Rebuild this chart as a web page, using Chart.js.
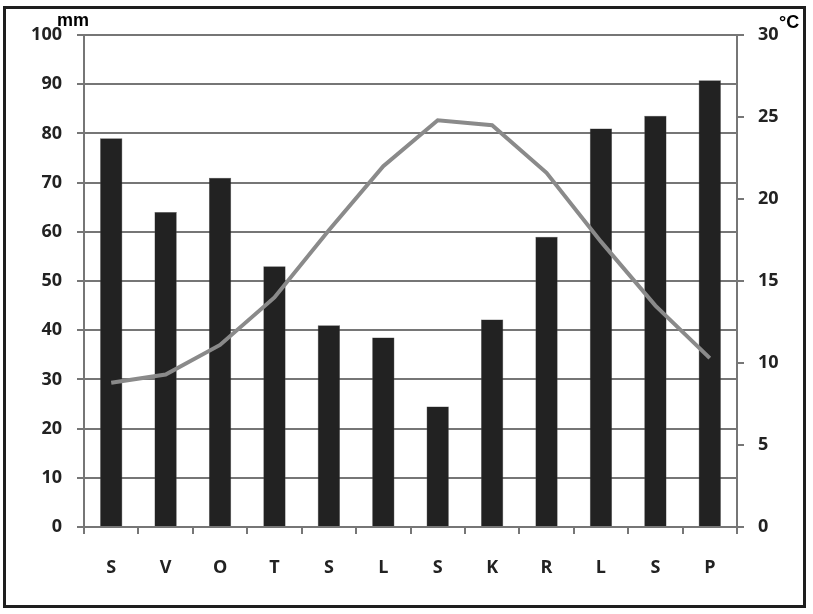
<!DOCTYPE html>
<html>
<head>
<meta charset="utf-8">
<script src="https://cdn.jsdelivr.net/npm/chart.js@4.4.1/dist/chart.umd.min.js"></script>
<style>
  html, body { margin: 0; padding: 0; background: #fff; }
  #frame {
    position: absolute; left: 3px; top: 6px;
    width: 803px; height: 602px;
    box-sizing: border-box;
    border: 3px solid #1e1e1e;
    background: #fff;
  }
  #wrap { position: absolute; left: 0; top: 0; width: 797px; height: 596px; }
  .unit {
    position: absolute; font-family: "Liberation Sans", Arial, sans-serif;
    font-weight: bold; color: #000; line-height: 1;
  }
</style>
</head>
<body>
<div id="frame">
  <div id="wrap"><canvas id="climateChart"></canvas></div>
  <div class="unit" style="left:51px; top:2px; font-size:18px;">mm</div>
  <div class="unit" style="left:773px; top:4px; font-size:18px;">°C</div>
</div>
<script>
const months = ['S', 'V', 'O', 'T', 'S', 'L', 'S', 'K', 'R', 'L', 'S', 'P'];
const precipitation = [79, 64, 71, 53, 41, 38.5, 24.5, 42.2, 59, 81, 83.6, 90.8];
const temperature = [8.8, 9.3, 11.1, 14.0, 18.1, 22.0, 24.8, 24.5, 21.6, 17.4, 13.5, 10.3];

const tickFont = { family: "'Open Sans', sans-serif", size: 18, weight: 'bold' };
const gridGray = '#767676';

const ctx = document.getElementById('climateChart').getContext('2d');
const climateChart = new Chart(ctx, {
  data: {
    labels: months,
    datasets: [
      {
        type: 'line',
        label: 'Temperatura',
        data: temperature,
        yAxisID: 'yTemp',
        borderColor: '#8a8a8a',
        borderWidth: 4,
        pointRadius: 0,
        tension: 0,
        order: 0
      },
      {
        type: 'bar',
        label: 'Padaline',
        data: precipitation,
        yAxisID: 'yRain',
        backgroundColor: '#222222',
        borderColor: '#555555',
        borderWidth: 0.5,
        barPercentage: 0.41,
        categoryPercentage: 1,
        order: 1
      }
    ]
  },
  options: {
    responsive: true,
    maintainAspectRatio: false,
    animation: false,
    layout: { padding: { top: 26, left: 0, right: 0, bottom: 0 } },
    plugins: {
      legend: { display: false },
      tooltip: { enabled: false }
    },
    scales: {
      x: {
        offset: true,
        grid: {
          offset: true,
          drawOnChartArea: false,
          color: gridGray,
          lineWidth: 2,
          tickLength: 7
        },
        border: { display: true, color: gridGray, width: 2 },
        ticks: { color: '#222', font: tickFont, padding: 23, maxRotation: 0 },
        afterFit(scale) { scale.height = 78; }
      },
      yRain: {
        position: 'left',
        min: 0,
        max: 100,
        ticks: { stepSize: 10, color: '#222', font: tickFont, padding: 15 },
        grid: { color: gridGray, lineWidth: 2, tickLength: 7 },
        border: { display: true, color: gridGray, width: 2 },
        afterFit(scale) { scale.width = 78; }
      },
      yTemp: {
        position: 'right',
        min: 0,
        max: 30,
        ticks: { stepSize: 5, color: '#222', font: tickFont, padding: 14 },
        grid: { drawOnChartArea: false, color: gridGray, lineWidth: 2, tickLength: 7 },
        border: { display: true, color: gridGray, width: 2 },
        afterFit(scale) { scale.width = 66; }
      }
    }
  }
});
</script>
</body>
</html>
